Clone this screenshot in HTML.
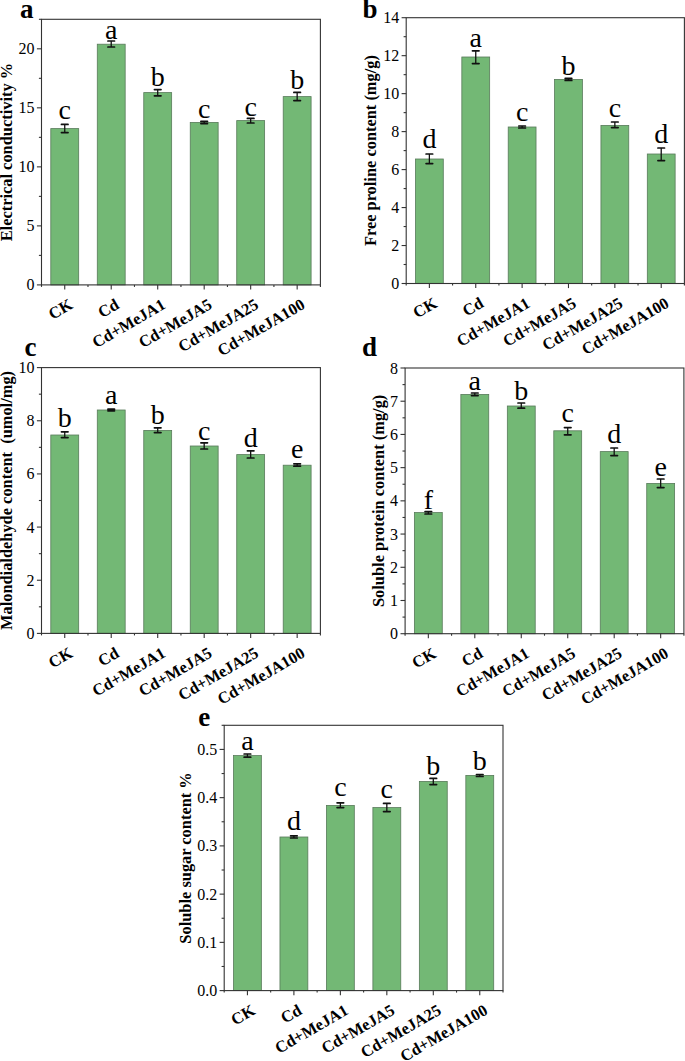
<!DOCTYPE html>
<html><head><meta charset="utf-8"><style>
html,body{margin:0;padding:0;background:#fff;}
svg{display:block;}
text{font-family:"Liberation Serif",serif;fill:#000;}
.tk{font-size:16px;}
.sig{font-size:28px;}
.xl{font-size:16.4px;font-weight:bold;}
.yt{font-size:16.4px;font-weight:bold;}
.pl{font-size:27px;font-weight:bold;}
</style></head><body>
<svg width="685" height="1061" viewBox="0 0 685 1061">
<rect x="50.80" y="128.60" width="27.89" height="156.30" fill="#73b875" stroke="#587a5a" stroke-width="0.8"/>
<rect x="97.28" y="44.20" width="27.89" height="240.70" fill="#73b875" stroke="#587a5a" stroke-width="0.8"/>
<rect x="143.76" y="92.60" width="27.89" height="192.30" fill="#73b875" stroke="#587a5a" stroke-width="0.8"/>
<rect x="190.25" y="122.40" width="27.89" height="162.50" fill="#73b875" stroke="#587a5a" stroke-width="0.8"/>
<rect x="236.73" y="120.60" width="27.89" height="164.30" fill="#73b875" stroke="#587a5a" stroke-width="0.8"/>
<rect x="283.21" y="96.60" width="27.89" height="188.30" fill="#73b875" stroke="#587a5a" stroke-width="0.8"/>
<path d="M64.74 124.40V132.60" stroke="#111" stroke-width="1.3" fill="none"/>
<path d="M61.44 124.40H68.04M61.44 132.60H68.04" stroke="#111" stroke-width="1.7" stroke-linecap="round" fill="none"/>
<path d="M111.22 41.00V47.00" stroke="#111" stroke-width="1.3" fill="none"/>
<path d="M107.92 41.00H114.52M107.92 47.00H114.52" stroke="#111" stroke-width="1.7" stroke-linecap="round" fill="none"/>
<path d="M157.71 89.60V95.80" stroke="#111" stroke-width="1.3" fill="none"/>
<path d="M154.41 89.60H161.01M154.41 95.80H161.01" stroke="#111" stroke-width="1.7" stroke-linecap="round" fill="none"/>
<path d="M204.19 121.40V123.60" stroke="#111" stroke-width="1.3" fill="none"/>
<path d="M200.89 121.40H207.49M200.89 123.60H207.49" stroke="#111" stroke-width="1.7" stroke-linecap="round" fill="none"/>
<path d="M250.67 118.40V123.00" stroke="#111" stroke-width="1.3" fill="none"/>
<path d="M247.37 118.40H253.97M247.37 123.00H253.97" stroke="#111" stroke-width="1.7" stroke-linecap="round" fill="none"/>
<path d="M297.16 92.40V100.60" stroke="#111" stroke-width="1.3" fill="none"/>
<path d="M293.86 92.40H300.46M293.86 100.60H300.46" stroke="#111" stroke-width="1.7" stroke-linecap="round" fill="none"/>
<rect x="41.50" y="19.30" width="278.90" height="265.60" fill="none" stroke="#333" stroke-width="1.1"/>
<path d="M36.90 284.90H41.50" stroke="#333" stroke-width="1.1"/>
<text x="34.50" y="290.40" class="tk" text-anchor="end">0</text>
<path d="M36.90 225.88H41.50" stroke="#333" stroke-width="1.1"/>
<text x="34.50" y="231.38" class="tk" text-anchor="end">5</text>
<path d="M36.90 166.86H41.50" stroke="#333" stroke-width="1.1"/>
<text x="34.50" y="172.36" class="tk" text-anchor="end">10</text>
<path d="M36.90 107.83H41.50" stroke="#333" stroke-width="1.1"/>
<text x="34.50" y="113.33" class="tk" text-anchor="end">15</text>
<path d="M36.90 48.81H41.50" stroke="#333" stroke-width="1.1"/>
<text x="34.50" y="54.31" class="tk" text-anchor="end">20</text>
<path d="M38.90 255.39H41.50" stroke="#333" stroke-width="1.1"/>
<path d="M38.90 196.37H41.50" stroke="#333" stroke-width="1.1"/>
<path d="M38.90 137.34H41.50" stroke="#333" stroke-width="1.1"/>
<path d="M38.90 78.32H41.50" stroke="#333" stroke-width="1.1"/>
<path d="M38.90 19.30H41.50" stroke="#333" stroke-width="1.1"/>
<path d="M64.74 284.90V289.50" stroke="#333" stroke-width="1.1"/>
<path d="M111.22 284.90V289.50" stroke="#333" stroke-width="1.1"/>
<path d="M157.71 284.90V289.50" stroke="#333" stroke-width="1.1"/>
<path d="M204.19 284.90V289.50" stroke="#333" stroke-width="1.1"/>
<path d="M250.67 284.90V289.50" stroke="#333" stroke-width="1.1"/>
<path d="M297.16 284.90V289.50" stroke="#333" stroke-width="1.1"/>
<path d="M41.50 284.90V286.90" stroke="#333" stroke-width="1.1"/>
<path d="M87.98 284.90V286.90" stroke="#333" stroke-width="1.1"/>
<path d="M134.47 284.90V286.90" stroke="#333" stroke-width="1.1"/>
<path d="M180.95 284.90V286.90" stroke="#333" stroke-width="1.1"/>
<path d="M227.43 284.90V286.90" stroke="#333" stroke-width="1.1"/>
<path d="M273.92 284.90V286.90" stroke="#333" stroke-width="1.1"/>
<path d="M320.40 284.90V286.90" stroke="#333" stroke-width="1.1"/>
<text x="64.74" y="119.00" class="sig" text-anchor="middle">c</text>
<text x="111.22" y="39.00" class="sig" text-anchor="middle">a</text>
<text x="157.71" y="86.40" class="sig" text-anchor="middle">b</text>
<text x="204.19" y="118.00" class="sig" text-anchor="middle">c</text>
<text x="250.67" y="116.00" class="sig" text-anchor="middle">c</text>
<text x="297.16" y="89.00" class="sig" text-anchor="middle">b</text>
<text x="73.74" y="307.70" class="xl" text-anchor="end" transform="rotate(-30 73.74 307.70)">CK</text>
<text x="120.22" y="307.70" class="xl" text-anchor="end" transform="rotate(-30 120.22 307.70)">Cd</text>
<text x="166.71" y="307.70" class="xl" text-anchor="end" transform="rotate(-30 166.71 307.70)">Cd+MeJA1</text>
<text x="213.19" y="307.70" class="xl" text-anchor="end" transform="rotate(-30 213.19 307.70)">Cd+MeJA5</text>
<text x="259.67" y="307.70" class="xl" text-anchor="end" transform="rotate(-30 259.67 307.70)">Cd+MeJA25</text>
<text x="306.16" y="307.70" class="xl" text-anchor="end" transform="rotate(-30 306.16 307.70)">Cd+MeJA100</text>
<text x="11.80" y="152.10" class="yt" text-anchor="middle" transform="rotate(-90 11.80 152.10)">Electrical conductivity %</text>
<text x="19.95" y="17.60" class="pl">a</text>
<rect x="415.47" y="159.00" width="27.82" height="124.50" fill="#73b875" stroke="#587a5a" stroke-width="0.8"/>
<rect x="461.84" y="57.00" width="27.82" height="226.50" fill="#73b875" stroke="#587a5a" stroke-width="0.8"/>
<rect x="508.21" y="127.00" width="27.82" height="156.50" fill="#73b875" stroke="#587a5a" stroke-width="0.8"/>
<rect x="554.57" y="79.40" width="27.82" height="204.10" fill="#73b875" stroke="#587a5a" stroke-width="0.8"/>
<rect x="600.94" y="125.40" width="27.82" height="158.10" fill="#73b875" stroke="#587a5a" stroke-width="0.8"/>
<rect x="647.31" y="154.00" width="27.82" height="129.50" fill="#73b875" stroke="#587a5a" stroke-width="0.8"/>
<path d="M429.38 154.00V163.60" stroke="#111" stroke-width="1.3" fill="none"/>
<path d="M426.08 154.00H432.68M426.08 163.60H432.68" stroke="#111" stroke-width="1.7" stroke-linecap="round" fill="none"/>
<path d="M475.75 50.80V63.60" stroke="#111" stroke-width="1.3" fill="none"/>
<path d="M472.45 50.80H479.05M472.45 63.60H479.05" stroke="#111" stroke-width="1.7" stroke-linecap="round" fill="none"/>
<path d="M522.12 126.00V128.00" stroke="#111" stroke-width="1.3" fill="none"/>
<path d="M518.82 126.00H525.42M518.82 128.00H525.42" stroke="#111" stroke-width="1.7" stroke-linecap="round" fill="none"/>
<path d="M568.48 78.40V80.40" stroke="#111" stroke-width="1.3" fill="none"/>
<path d="M565.18 78.40H571.78M565.18 80.40H571.78" stroke="#111" stroke-width="1.7" stroke-linecap="round" fill="none"/>
<path d="M614.85 122.00V127.60" stroke="#111" stroke-width="1.3" fill="none"/>
<path d="M611.55 122.00H618.15M611.55 127.60H618.15" stroke="#111" stroke-width="1.7" stroke-linecap="round" fill="none"/>
<path d="M661.22 148.00V160.60" stroke="#111" stroke-width="1.3" fill="none"/>
<path d="M657.92 148.00H664.52M657.92 160.60H664.52" stroke="#111" stroke-width="1.7" stroke-linecap="round" fill="none"/>
<rect x="406.20" y="17.70" width="278.20" height="265.80" fill="none" stroke="#333" stroke-width="1.1"/>
<path d="M401.60 283.50H406.20" stroke="#333" stroke-width="1.1"/>
<text x="399.20" y="289.00" class="tk" text-anchor="end">0</text>
<path d="M401.60 245.53H406.20" stroke="#333" stroke-width="1.1"/>
<text x="399.20" y="251.03" class="tk" text-anchor="end">2</text>
<path d="M401.60 207.56H406.20" stroke="#333" stroke-width="1.1"/>
<text x="399.20" y="213.06" class="tk" text-anchor="end">4</text>
<path d="M401.60 169.59H406.20" stroke="#333" stroke-width="1.1"/>
<text x="399.20" y="175.09" class="tk" text-anchor="end">6</text>
<path d="M401.60 131.61H406.20" stroke="#333" stroke-width="1.1"/>
<text x="399.20" y="137.11" class="tk" text-anchor="end">8</text>
<path d="M401.60 93.64H406.20" stroke="#333" stroke-width="1.1"/>
<text x="399.20" y="99.14" class="tk" text-anchor="end">10</text>
<path d="M401.60 55.67H406.20" stroke="#333" stroke-width="1.1"/>
<text x="399.20" y="61.17" class="tk" text-anchor="end">12</text>
<path d="M401.60 17.70H406.20" stroke="#333" stroke-width="1.1"/>
<text x="399.20" y="23.20" class="tk" text-anchor="end">14</text>
<path d="M403.60 264.51H406.20" stroke="#333" stroke-width="1.1"/>
<path d="M403.60 226.54H406.20" stroke="#333" stroke-width="1.1"/>
<path d="M403.60 188.57H406.20" stroke="#333" stroke-width="1.1"/>
<path d="M403.60 150.60H406.20" stroke="#333" stroke-width="1.1"/>
<path d="M403.60 112.63H406.20" stroke="#333" stroke-width="1.1"/>
<path d="M403.60 74.66H406.20" stroke="#333" stroke-width="1.1"/>
<path d="M403.60 36.69H406.20" stroke="#333" stroke-width="1.1"/>
<path d="M429.38 283.50V288.10" stroke="#333" stroke-width="1.1"/>
<path d="M475.75 283.50V288.10" stroke="#333" stroke-width="1.1"/>
<path d="M522.12 283.50V288.10" stroke="#333" stroke-width="1.1"/>
<path d="M568.48 283.50V288.10" stroke="#333" stroke-width="1.1"/>
<path d="M614.85 283.50V288.10" stroke="#333" stroke-width="1.1"/>
<path d="M661.22 283.50V288.10" stroke="#333" stroke-width="1.1"/>
<path d="M406.20 283.50V285.50" stroke="#333" stroke-width="1.1"/>
<path d="M452.57 283.50V285.50" stroke="#333" stroke-width="1.1"/>
<path d="M498.93 283.50V285.50" stroke="#333" stroke-width="1.1"/>
<path d="M545.30 283.50V285.50" stroke="#333" stroke-width="1.1"/>
<path d="M591.67 283.50V285.50" stroke="#333" stroke-width="1.1"/>
<path d="M638.03 283.50V285.50" stroke="#333" stroke-width="1.1"/>
<path d="M684.40 283.50V285.50" stroke="#333" stroke-width="1.1"/>
<text x="429.38" y="148.00" class="sig" text-anchor="middle">d</text>
<text x="475.75" y="47.00" class="sig" text-anchor="middle">a</text>
<text x="522.12" y="121.00" class="sig" text-anchor="middle">c</text>
<text x="568.48" y="74.60" class="sig" text-anchor="middle">b</text>
<text x="614.85" y="117.00" class="sig" text-anchor="middle">c</text>
<text x="661.22" y="142.60" class="sig" text-anchor="middle">d</text>
<text x="438.38" y="306.30" class="xl" text-anchor="end" transform="rotate(-30 438.38 306.30)">CK</text>
<text x="484.75" y="306.30" class="xl" text-anchor="end" transform="rotate(-30 484.75 306.30)">Cd</text>
<text x="531.12" y="306.30" class="xl" text-anchor="end" transform="rotate(-30 531.12 306.30)">Cd+MeJA1</text>
<text x="577.48" y="306.30" class="xl" text-anchor="end" transform="rotate(-30 577.48 306.30)">Cd+MeJA5</text>
<text x="623.85" y="306.30" class="xl" text-anchor="end" transform="rotate(-30 623.85 306.30)">Cd+MeJA25</text>
<text x="670.22" y="306.30" class="xl" text-anchor="end" transform="rotate(-30 670.22 306.30)">Cd+MeJA100</text>
<text x="376.50" y="150.60" class="yt" text-anchor="middle" transform="rotate(-90 376.50 150.60)">Free proline content (mg/g)</text>
<text x="362.45" y="17.60" class="pl">b</text>
<rect x="50.80" y="435.00" width="27.89" height="198.40" fill="#73b875" stroke="#587a5a" stroke-width="0.8"/>
<rect x="97.28" y="410.00" width="27.89" height="223.40" fill="#73b875" stroke="#587a5a" stroke-width="0.8"/>
<rect x="143.76" y="430.40" width="27.89" height="203.00" fill="#73b875" stroke="#587a5a" stroke-width="0.8"/>
<rect x="190.25" y="446.00" width="27.89" height="187.40" fill="#73b875" stroke="#587a5a" stroke-width="0.8"/>
<rect x="236.73" y="454.60" width="27.89" height="178.80" fill="#73b875" stroke="#587a5a" stroke-width="0.8"/>
<rect x="283.21" y="465.20" width="27.89" height="168.20" fill="#73b875" stroke="#587a5a" stroke-width="0.8"/>
<path d="M64.74 431.80V437.60" stroke="#111" stroke-width="1.3" fill="none"/>
<path d="M61.44 431.80H68.04M61.44 437.60H68.04" stroke="#111" stroke-width="1.7" stroke-linecap="round" fill="none"/>
<path d="M111.22 409.20V410.80" stroke="#111" stroke-width="1.3" fill="none"/>
<path d="M107.92 409.20H114.52M107.92 410.80H114.52" stroke="#111" stroke-width="1.7" stroke-linecap="round" fill="none"/>
<path d="M157.71 427.80V432.60" stroke="#111" stroke-width="1.3" fill="none"/>
<path d="M154.41 427.80H161.01M154.41 432.60H161.01" stroke="#111" stroke-width="1.7" stroke-linecap="round" fill="none"/>
<path d="M204.19 442.80V449.00" stroke="#111" stroke-width="1.3" fill="none"/>
<path d="M200.89 442.80H207.49M200.89 449.00H207.49" stroke="#111" stroke-width="1.7" stroke-linecap="round" fill="none"/>
<path d="M250.67 450.80V458.00" stroke="#111" stroke-width="1.3" fill="none"/>
<path d="M247.37 450.80H253.97M247.37 458.00H253.97" stroke="#111" stroke-width="1.7" stroke-linecap="round" fill="none"/>
<path d="M297.16 463.80V466.20" stroke="#111" stroke-width="1.3" fill="none"/>
<path d="M293.86 463.80H300.46M293.86 466.20H300.46" stroke="#111" stroke-width="1.7" stroke-linecap="round" fill="none"/>
<rect x="41.50" y="367.60" width="278.90" height="265.80" fill="none" stroke="#333" stroke-width="1.1"/>
<path d="M36.90 633.40H41.50" stroke="#333" stroke-width="1.1"/>
<text x="34.50" y="638.90" class="tk" text-anchor="end">0</text>
<path d="M36.90 580.24H41.50" stroke="#333" stroke-width="1.1"/>
<text x="34.50" y="585.74" class="tk" text-anchor="end">2</text>
<path d="M36.90 527.08H41.50" stroke="#333" stroke-width="1.1"/>
<text x="34.50" y="532.58" class="tk" text-anchor="end">4</text>
<path d="M36.90 473.92H41.50" stroke="#333" stroke-width="1.1"/>
<text x="34.50" y="479.42" class="tk" text-anchor="end">6</text>
<path d="M36.90 420.76H41.50" stroke="#333" stroke-width="1.1"/>
<text x="34.50" y="426.26" class="tk" text-anchor="end">8</text>
<path d="M36.90 367.60H41.50" stroke="#333" stroke-width="1.1"/>
<text x="34.50" y="373.10" class="tk" text-anchor="end">10</text>
<path d="M38.90 606.82H41.50" stroke="#333" stroke-width="1.1"/>
<path d="M38.90 553.66H41.50" stroke="#333" stroke-width="1.1"/>
<path d="M38.90 500.50H41.50" stroke="#333" stroke-width="1.1"/>
<path d="M38.90 447.34H41.50" stroke="#333" stroke-width="1.1"/>
<path d="M38.90 394.18H41.50" stroke="#333" stroke-width="1.1"/>
<path d="M64.74 633.40V638.00" stroke="#333" stroke-width="1.1"/>
<path d="M111.22 633.40V638.00" stroke="#333" stroke-width="1.1"/>
<path d="M157.71 633.40V638.00" stroke="#333" stroke-width="1.1"/>
<path d="M204.19 633.40V638.00" stroke="#333" stroke-width="1.1"/>
<path d="M250.67 633.40V638.00" stroke="#333" stroke-width="1.1"/>
<path d="M297.16 633.40V638.00" stroke="#333" stroke-width="1.1"/>
<path d="M41.50 633.40V635.40" stroke="#333" stroke-width="1.1"/>
<path d="M87.98 633.40V635.40" stroke="#333" stroke-width="1.1"/>
<path d="M134.47 633.40V635.40" stroke="#333" stroke-width="1.1"/>
<path d="M180.95 633.40V635.40" stroke="#333" stroke-width="1.1"/>
<path d="M227.43 633.40V635.40" stroke="#333" stroke-width="1.1"/>
<path d="M273.92 633.40V635.40" stroke="#333" stroke-width="1.1"/>
<path d="M320.40 633.40V635.40" stroke="#333" stroke-width="1.1"/>
<text x="64.74" y="427.00" class="sig" text-anchor="middle">b</text>
<text x="111.22" y="404.00" class="sig" text-anchor="middle">a</text>
<text x="157.71" y="424.00" class="sig" text-anchor="middle">b</text>
<text x="204.19" y="439.60" class="sig" text-anchor="middle">c</text>
<text x="250.67" y="447.00" class="sig" text-anchor="middle">d</text>
<text x="297.16" y="457.60" class="sig" text-anchor="middle">e</text>
<text x="73.74" y="656.20" class="xl" text-anchor="end" transform="rotate(-30 73.74 656.20)">CK</text>
<text x="120.22" y="656.20" class="xl" text-anchor="end" transform="rotate(-30 120.22 656.20)">Cd</text>
<text x="166.71" y="656.20" class="xl" text-anchor="end" transform="rotate(-30 166.71 656.20)">Cd+MeJA1</text>
<text x="213.19" y="656.20" class="xl" text-anchor="end" transform="rotate(-30 213.19 656.20)">Cd+MeJA5</text>
<text x="259.67" y="656.20" class="xl" text-anchor="end" transform="rotate(-30 259.67 656.20)">Cd+MeJA25</text>
<text x="306.16" y="656.20" class="xl" text-anchor="end" transform="rotate(-30 306.16 656.20)">Cd+MeJA100</text>
<text x="11.80" y="500.50" class="yt" text-anchor="middle" transform="rotate(-90 11.80 500.50)">Malondialdehyde content  (umol/mg)</text>
<text x="24.55" y="355.60" class="pl">c</text>
<rect x="414.39" y="512.60" width="27.88" height="121.10" fill="#73b875" stroke="#587a5a" stroke-width="0.8"/>
<rect x="460.86" y="394.40" width="27.88" height="239.30" fill="#73b875" stroke="#587a5a" stroke-width="0.8"/>
<rect x="507.33" y="406.00" width="27.88" height="227.70" fill="#73b875" stroke="#587a5a" stroke-width="0.8"/>
<rect x="553.79" y="430.80" width="27.88" height="202.90" fill="#73b875" stroke="#587a5a" stroke-width="0.8"/>
<rect x="600.26" y="451.60" width="27.88" height="182.10" fill="#73b875" stroke="#587a5a" stroke-width="0.8"/>
<rect x="646.73" y="483.40" width="27.88" height="150.30" fill="#73b875" stroke="#587a5a" stroke-width="0.8"/>
<path d="M428.33 511.60V514.00" stroke="#111" stroke-width="1.3" fill="none"/>
<path d="M425.03 511.60H431.63M425.03 514.00H431.63" stroke="#111" stroke-width="1.7" stroke-linecap="round" fill="none"/>
<path d="M474.80 393.00V395.60" stroke="#111" stroke-width="1.3" fill="none"/>
<path d="M471.50 393.00H478.10M471.50 395.60H478.10" stroke="#111" stroke-width="1.7" stroke-linecap="round" fill="none"/>
<path d="M521.27 403.00V408.20" stroke="#111" stroke-width="1.3" fill="none"/>
<path d="M517.97 403.00H524.57M517.97 408.20H524.57" stroke="#111" stroke-width="1.7" stroke-linecap="round" fill="none"/>
<path d="M567.73 427.60V434.80" stroke="#111" stroke-width="1.3" fill="none"/>
<path d="M564.43 427.60H571.03M564.43 434.80H571.03" stroke="#111" stroke-width="1.7" stroke-linecap="round" fill="none"/>
<path d="M614.20 448.00V455.60" stroke="#111" stroke-width="1.3" fill="none"/>
<path d="M610.90 448.00H617.50M610.90 455.60H617.50" stroke="#111" stroke-width="1.7" stroke-linecap="round" fill="none"/>
<path d="M660.67 479.00V487.60" stroke="#111" stroke-width="1.3" fill="none"/>
<path d="M657.37 479.00H663.97M657.37 487.60H663.97" stroke="#111" stroke-width="1.7" stroke-linecap="round" fill="none"/>
<rect x="405.10" y="368.00" width="278.80" height="265.70" fill="none" stroke="#333" stroke-width="1.1"/>
<path d="M400.50 633.70H405.10" stroke="#333" stroke-width="1.1"/>
<text x="398.10" y="639.20" class="tk" text-anchor="end">0</text>
<path d="M400.50 600.49H405.10" stroke="#333" stroke-width="1.1"/>
<text x="398.10" y="605.99" class="tk" text-anchor="end">1</text>
<path d="M400.50 567.28H405.10" stroke="#333" stroke-width="1.1"/>
<text x="398.10" y="572.78" class="tk" text-anchor="end">2</text>
<path d="M400.50 534.06H405.10" stroke="#333" stroke-width="1.1"/>
<text x="398.10" y="539.56" class="tk" text-anchor="end">3</text>
<path d="M400.50 500.85H405.10" stroke="#333" stroke-width="1.1"/>
<text x="398.10" y="506.35" class="tk" text-anchor="end">4</text>
<path d="M400.50 467.64H405.10" stroke="#333" stroke-width="1.1"/>
<text x="398.10" y="473.14" class="tk" text-anchor="end">5</text>
<path d="M400.50 434.43H405.10" stroke="#333" stroke-width="1.1"/>
<text x="398.10" y="439.93" class="tk" text-anchor="end">6</text>
<path d="M400.50 401.21H405.10" stroke="#333" stroke-width="1.1"/>
<text x="398.10" y="406.71" class="tk" text-anchor="end">7</text>
<path d="M400.50 368.00H405.10" stroke="#333" stroke-width="1.1"/>
<text x="398.10" y="373.50" class="tk" text-anchor="end">8</text>
<path d="M402.50 617.09H405.10" stroke="#333" stroke-width="1.1"/>
<path d="M402.50 583.88H405.10" stroke="#333" stroke-width="1.1"/>
<path d="M402.50 550.67H405.10" stroke="#333" stroke-width="1.1"/>
<path d="M402.50 517.46H405.10" stroke="#333" stroke-width="1.1"/>
<path d="M402.50 484.24H405.10" stroke="#333" stroke-width="1.1"/>
<path d="M402.50 451.03H405.10" stroke="#333" stroke-width="1.1"/>
<path d="M402.50 417.82H405.10" stroke="#333" stroke-width="1.1"/>
<path d="M402.50 384.61H405.10" stroke="#333" stroke-width="1.1"/>
<path d="M428.33 633.70V638.30" stroke="#333" stroke-width="1.1"/>
<path d="M474.80 633.70V638.30" stroke="#333" stroke-width="1.1"/>
<path d="M521.27 633.70V638.30" stroke="#333" stroke-width="1.1"/>
<path d="M567.73 633.70V638.30" stroke="#333" stroke-width="1.1"/>
<path d="M614.20 633.70V638.30" stroke="#333" stroke-width="1.1"/>
<path d="M660.67 633.70V638.30" stroke="#333" stroke-width="1.1"/>
<path d="M405.10 633.70V635.70" stroke="#333" stroke-width="1.1"/>
<path d="M451.57 633.70V635.70" stroke="#333" stroke-width="1.1"/>
<path d="M498.03 633.70V635.70" stroke="#333" stroke-width="1.1"/>
<path d="M544.50 633.70V635.70" stroke="#333" stroke-width="1.1"/>
<path d="M590.97 633.70V635.70" stroke="#333" stroke-width="1.1"/>
<path d="M637.43 633.70V635.70" stroke="#333" stroke-width="1.1"/>
<path d="M683.90 633.70V635.70" stroke="#333" stroke-width="1.1"/>
<text x="428.33" y="508.50" class="sig" text-anchor="middle">f</text>
<text x="474.80" y="390.10" class="sig" text-anchor="middle">a</text>
<text x="521.27" y="399.50" class="sig" text-anchor="middle">b</text>
<text x="567.73" y="421.50" class="sig" text-anchor="middle">c</text>
<text x="614.20" y="443.10" class="sig" text-anchor="middle">d</text>
<text x="660.67" y="475.50" class="sig" text-anchor="middle">e</text>
<text x="437.33" y="656.50" class="xl" text-anchor="end" transform="rotate(-30 437.33 656.50)">CK</text>
<text x="483.80" y="656.50" class="xl" text-anchor="end" transform="rotate(-30 483.80 656.50)">Cd</text>
<text x="530.27" y="656.50" class="xl" text-anchor="end" transform="rotate(-30 530.27 656.50)">Cd+MeJA1</text>
<text x="576.73" y="656.50" class="xl" text-anchor="end" transform="rotate(-30 576.73 656.50)">Cd+MeJA5</text>
<text x="623.20" y="656.50" class="xl" text-anchor="end" transform="rotate(-30 623.20 656.50)">Cd+MeJA25</text>
<text x="669.67" y="656.50" class="xl" text-anchor="end" transform="rotate(-30 669.67 656.50)">Cd+MeJA100</text>
<text x="383.80" y="500.85" class="yt" text-anchor="middle" transform="rotate(-90 383.80 500.85)">Soluble protein content (mg/g)</text>
<text x="362.10" y="356.00" class="pl">d</text>
<rect x="233.49" y="755.60" width="27.88" height="235.00" fill="#73b875" stroke="#587a5a" stroke-width="0.8"/>
<rect x="279.96" y="837.00" width="27.88" height="153.60" fill="#73b875" stroke="#587a5a" stroke-width="0.8"/>
<rect x="326.43" y="805.40" width="27.88" height="185.20" fill="#73b875" stroke="#587a5a" stroke-width="0.8"/>
<rect x="372.89" y="807.60" width="27.88" height="183.00" fill="#73b875" stroke="#587a5a" stroke-width="0.8"/>
<rect x="419.36" y="781.40" width="27.88" height="209.20" fill="#73b875" stroke="#587a5a" stroke-width="0.8"/>
<rect x="465.83" y="775.40" width="27.88" height="215.20" fill="#73b875" stroke="#587a5a" stroke-width="0.8"/>
<path d="M247.43 754.00V757.20" stroke="#111" stroke-width="1.3" fill="none"/>
<path d="M244.13 754.00H250.73M244.13 757.20H250.73" stroke="#111" stroke-width="1.7" stroke-linecap="round" fill="none"/>
<path d="M293.90 835.80V838.00" stroke="#111" stroke-width="1.3" fill="none"/>
<path d="M290.60 835.80H297.20M290.60 838.00H297.20" stroke="#111" stroke-width="1.7" stroke-linecap="round" fill="none"/>
<path d="M340.37 802.80V807.60" stroke="#111" stroke-width="1.3" fill="none"/>
<path d="M337.07 802.80H343.67M337.07 807.60H343.67" stroke="#111" stroke-width="1.7" stroke-linecap="round" fill="none"/>
<path d="M386.83 803.40V811.60" stroke="#111" stroke-width="1.3" fill="none"/>
<path d="M383.53 803.40H390.13M383.53 811.60H390.13" stroke="#111" stroke-width="1.7" stroke-linecap="round" fill="none"/>
<path d="M433.30 778.40V784.60" stroke="#111" stroke-width="1.3" fill="none"/>
<path d="M430.00 778.40H436.60M430.00 784.60H436.60" stroke="#111" stroke-width="1.7" stroke-linecap="round" fill="none"/>
<path d="M479.77 774.50V776.50" stroke="#111" stroke-width="1.3" fill="none"/>
<path d="M476.47 774.50H483.07M476.47 776.50H483.07" stroke="#111" stroke-width="1.7" stroke-linecap="round" fill="none"/>
<rect x="224.20" y="725.30" width="278.80" height="265.30" fill="none" stroke="#333" stroke-width="1.1"/>
<path d="M219.60 990.60H224.20" stroke="#333" stroke-width="1.1"/>
<text x="217.20" y="996.10" class="tk" text-anchor="end">0.0</text>
<path d="M219.60 942.36H224.20" stroke="#333" stroke-width="1.1"/>
<text x="217.20" y="947.86" class="tk" text-anchor="end">0.1</text>
<path d="M219.60 894.13H224.20" stroke="#333" stroke-width="1.1"/>
<text x="217.20" y="899.63" class="tk" text-anchor="end">0.2</text>
<path d="M219.60 845.89H224.20" stroke="#333" stroke-width="1.1"/>
<text x="217.20" y="851.39" class="tk" text-anchor="end">0.3</text>
<path d="M219.60 797.65H224.20" stroke="#333" stroke-width="1.1"/>
<text x="217.20" y="803.15" class="tk" text-anchor="end">0.4</text>
<path d="M219.60 749.42H224.20" stroke="#333" stroke-width="1.1"/>
<text x="217.20" y="754.92" class="tk" text-anchor="end">0.5</text>
<path d="M221.60 966.48H224.20" stroke="#333" stroke-width="1.1"/>
<path d="M221.60 918.25H224.20" stroke="#333" stroke-width="1.1"/>
<path d="M221.60 870.01H224.20" stroke="#333" stroke-width="1.1"/>
<path d="M221.60 821.77H224.20" stroke="#333" stroke-width="1.1"/>
<path d="M221.60 773.54H224.20" stroke="#333" stroke-width="1.1"/>
<path d="M221.60 725.30H224.20" stroke="#333" stroke-width="1.1"/>
<path d="M247.43 990.60V995.20" stroke="#333" stroke-width="1.1"/>
<path d="M293.90 990.60V995.20" stroke="#333" stroke-width="1.1"/>
<path d="M340.37 990.60V995.20" stroke="#333" stroke-width="1.1"/>
<path d="M386.83 990.60V995.20" stroke="#333" stroke-width="1.1"/>
<path d="M433.30 990.60V995.20" stroke="#333" stroke-width="1.1"/>
<path d="M479.77 990.60V995.20" stroke="#333" stroke-width="1.1"/>
<path d="M224.20 990.60V992.60" stroke="#333" stroke-width="1.1"/>
<path d="M270.67 990.60V992.60" stroke="#333" stroke-width="1.1"/>
<path d="M317.13 990.60V992.60" stroke="#333" stroke-width="1.1"/>
<path d="M363.60 990.60V992.60" stroke="#333" stroke-width="1.1"/>
<path d="M410.07 990.60V992.60" stroke="#333" stroke-width="1.1"/>
<path d="M456.53 990.60V992.60" stroke="#333" stroke-width="1.1"/>
<path d="M503.00 990.60V992.60" stroke="#333" stroke-width="1.1"/>
<text x="247.43" y="750.40" class="sig" text-anchor="middle">a</text>
<text x="293.90" y="830.00" class="sig" text-anchor="middle">d</text>
<text x="340.37" y="796.00" class="sig" text-anchor="middle">c</text>
<text x="386.83" y="797.60" class="sig" text-anchor="middle">c</text>
<text x="433.30" y="775.40" class="sig" text-anchor="middle">b</text>
<text x="479.77" y="770.00" class="sig" text-anchor="middle">b</text>
<text x="256.43" y="1013.40" class="xl" text-anchor="end" transform="rotate(-30 256.43 1013.40)">CK</text>
<text x="302.90" y="1013.40" class="xl" text-anchor="end" transform="rotate(-30 302.90 1013.40)">Cd</text>
<text x="349.37" y="1013.40" class="xl" text-anchor="end" transform="rotate(-30 349.37 1013.40)">Cd+MeJA1</text>
<text x="395.83" y="1013.40" class="xl" text-anchor="end" transform="rotate(-30 395.83 1013.40)">Cd+MeJA5</text>
<text x="442.30" y="1013.40" class="xl" text-anchor="end" transform="rotate(-30 442.30 1013.40)">Cd+MeJA25</text>
<text x="488.77" y="1013.40" class="xl" text-anchor="end" transform="rotate(-30 488.77 1013.40)">Cd+MeJA100</text>
<text x="191.30" y="857.95" class="yt" text-anchor="middle" transform="rotate(-90 191.30 857.95)">Soluble sugar content %</text>
<text x="198.25" y="725.90" class="pl">e</text>
</svg>
</body></html>
